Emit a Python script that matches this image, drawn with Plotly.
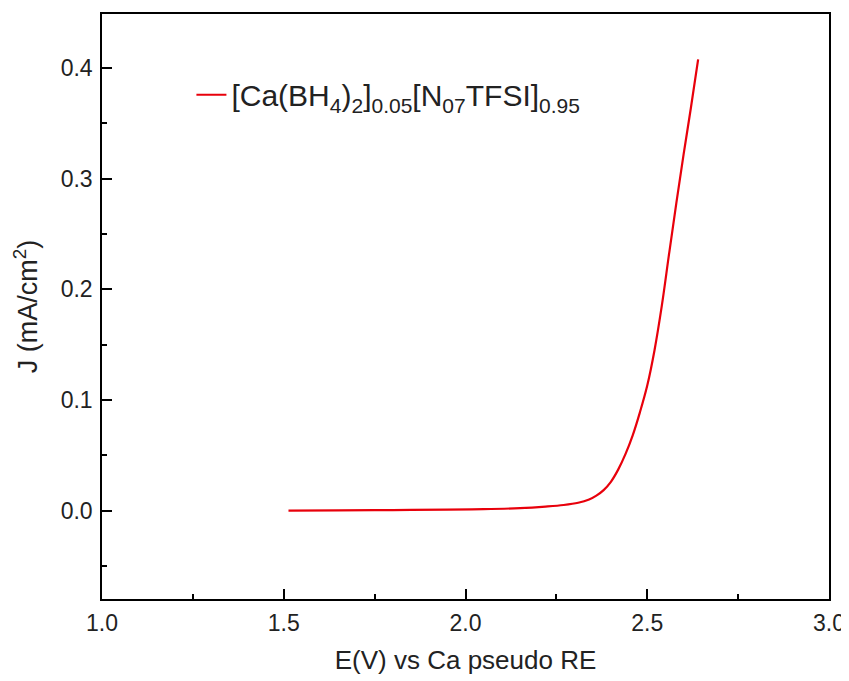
import plotly.graph_objects as go

# Data (E vs J)
potential_V = [1.513, 1.65, 1.80, 1.95, 2.05, 2.15, 2.22, 2.27, 2.31, 2.34, 2.36, 2.38,
               2.40, 2.42, 2.44, 2.46, 2.48, 2.50, 2.52, 2.54, 2.56, 2.58, 2.60, 2.62, 2.64]
current_mA_cm2 = [0.0, 0.0001, 0.0004, 0.0008, 0.0012, 0.0022, 0.0036, 0.0050, 0.0070,
                  0.0100, 0.0135, 0.0185, 0.026, 0.037, 0.051, 0.068, 0.089, 0.113, 0.145,
                  0.185, 0.232, 0.278, 0.322, 0.364, 0.408]
series_name = "[Ca(BH<sub>4</sub>)<sub>2</sub>]<sub>0.05</sub>[N<sub>07</sub>TFSI]<sub>0.95</sub>"

x_ticks = [1.0, 1.5, 2.0, 2.5, 3.0]
y_ticks = [0.0, 0.1, 0.2, 0.3, 0.4]

FONT = "Liberation Sans, Arial, sans-serif"

fig = go.Figure()
fig.add_trace(go.Scatter(
    x=potential_V, y=current_mA_cm2, mode="lines", name=series_name,
    line=dict(color="#e8000b", width=2.2, shape="spline", smoothing=1.0),
))

axis_common = dict(
    showline=True, linecolor="black", linewidth=1.5, mirror=True,
    ticks="inside", ticklen=10, tickwidth=1.5, tickcolor="black",
    showgrid=False, zeroline=False, automargin=False,
    ticklabeloverflow="allow",
    tickfont=dict(family=FONT, size=23, color="#222"),
)

fig.update_xaxes(
    range=[1.0, 3.0], tickvals=x_ticks, ticktext=[f"{v:.1f}" for v in x_ticks],
    minor=dict(ticks="inside", ticklen=5, tickwidth=1.5, tickcolor="black", dtick=0.25, tick0=1.0),
    title=dict(text="E(V) vs Ca pseudo RE", font=dict(family=FONT, size=26, color="#222")),
    ticklabelstandoff=3,
    **axis_common,
)
fig.update_yaxes(
    range=[-0.08, 0.449], tickvals=y_ticks, ticktext=[f"{v:.1f}" for v in y_ticks],
    minor=dict(ticks="inside", ticklen=5, tickwidth=1.5, tickcolor="black", dtick=0.05, tick0=0.0),
    title=dict(text="J (mA/cm<sup>2</sup>)", font=dict(family=FONT, size=27, color="#222")),
    ticklabelstandoff=3,
    **axis_common,
)

# The page body adds an 8 px offset, so the figure is sized to fit the 849x681 window
fig.update_layout(
    width=841, height=673,
    margin=dict(l=94, r=20, t=6, b=82),
    paper_bgcolor="white", plot_bgcolor="white",
    showlegend=True,
    legend=dict(x=0.123, y=0.862, xanchor="left", yanchor="middle",
                bgcolor="rgba(0,0,0,0)", font=dict(family=FONT, size=30, color="#222")),
)

fig.write_html("out.html")
